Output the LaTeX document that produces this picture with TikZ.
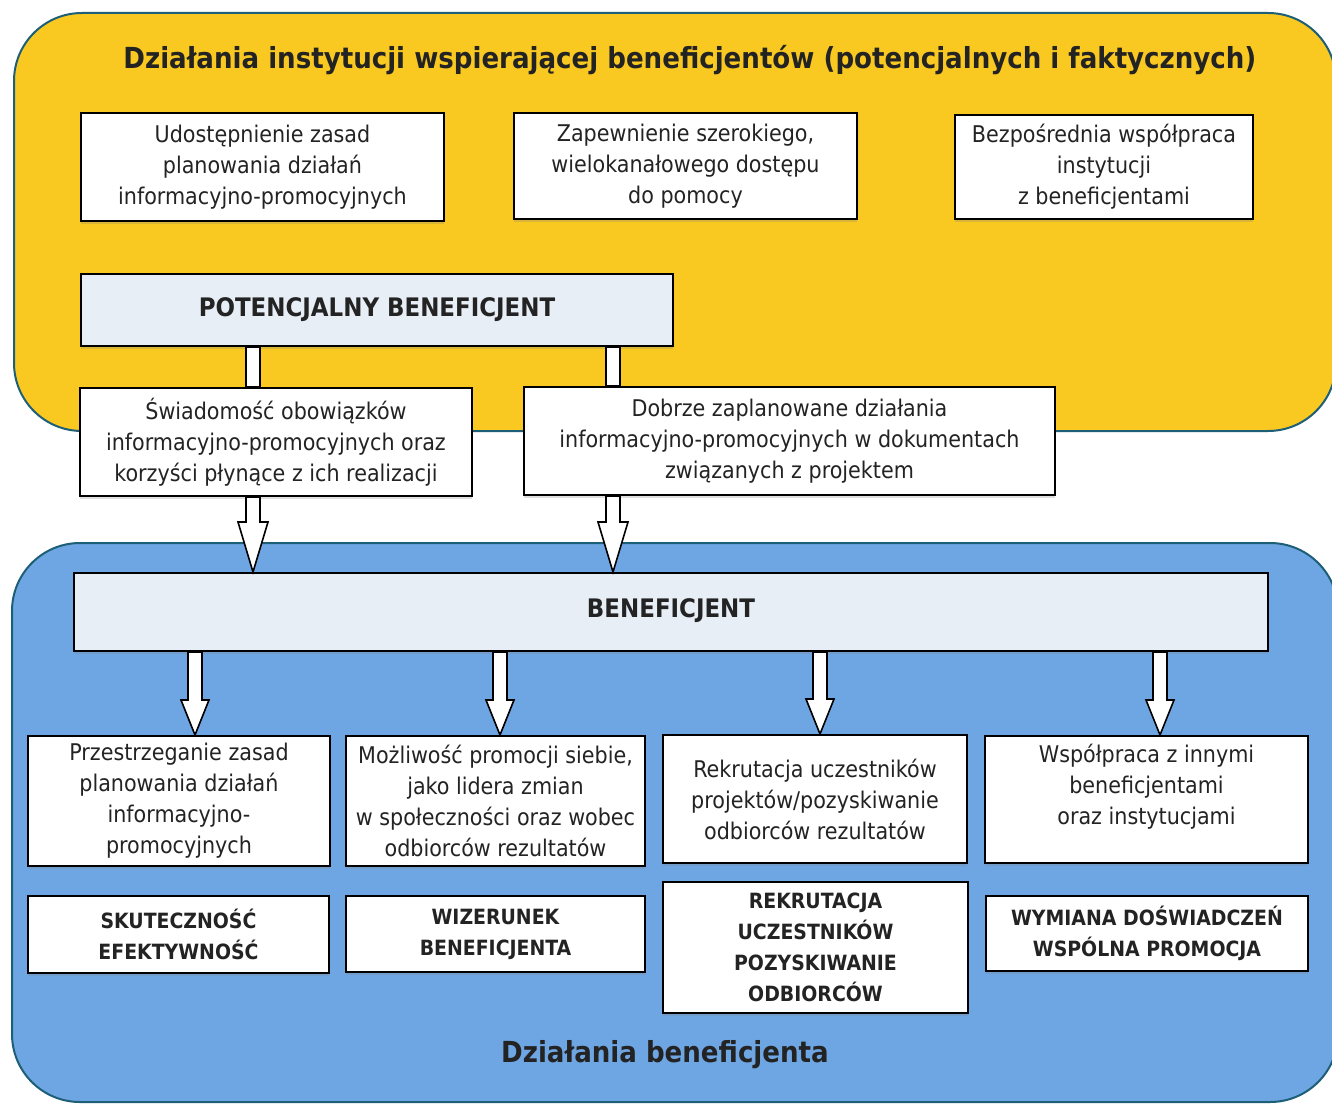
\documentclass[tikz,border=0pt]{standalone}
\usepackage{fontspec}
\setmainfont{DejaVu Sans Condensed}
\usetikzlibrary{calc,shadows}
\definecolor{ylw}{RGB}{249,201,33}
\definecolor{blu}{RGB}{110,166,228}
\definecolor{rim}{RGB}{30,95,120}
\definecolor{pale}{RGB}{232,238,246}
\definecolor{ink}{RGB}{35,35,35}
\tikzset{
  panel/.style={draw=rim, line width=2pt, rounded corners=68pt},
  box/.style={draw=black, line width=2pt, fill=white, align=center, inner sep=0pt,
    font=\fontsize{23}{31}\selectfont, text=ink,
    drop shadow={shadow xshift=0pt, shadow yshift=-3pt, opacity=0.25}},
  boldbox/.style={box, font=\fontsize{21}{31}\selectfont\bfseries},
  headbox/.style={box, fill=pale, font=\fontsize{25.5}{31}\selectfont\bfseries},
  bar/.style={draw=black, line width=1.6pt, fill=white},
  fat/.style={draw=black, line width=1.6pt, fill=white, line join=miter},
  ttl/.style={font=\fontsize{29}{34}\selectfont\bfseries, text=ink, inner sep=0pt},
}
% #1 start coord, #2 end coord, #3 shaft half width, #4 head half width, #5 head length
\newcommand{\fatarrow}[5]{%
  \draw[fat] ([xshift=-#3]#1) -- ([xshift=-#3,yshift=#5]#2) -- ([xshift=-#4,yshift=#5]#2)
    -- (#2) -- ([xshift=#4,yshift=#5]#2) -- ([xshift=#3,yshift=#5]#2) -- ([xshift=#3]#1) -- cycle;}
\begin{document}
\begin{tikzpicture}[x=1pt,y=-1pt]
\useasboundingbox (0,0) rectangle (1332,1105);
\fill[white] (0,0) rectangle (1332,1105);
% panels
\draw[panel, fill=ylw] (14,13) rectangle (1336,431);
\draw[panel, fill=blu] (12,543) rectangle (1338,1102);
\node[ttl] (title) at (690,60) {Działania instytucji wspierającej beneficjentów (potencjalnych i faktycznych)};
\node[ttl] (foot) at (665,1055) {Działania beneficjenta};
% top boxes
\node[box, minimum width=363pt, minimum height=108pt] (t1) at (262.5,167)
  {Udostępnienie zasad\\planowania działań\\informacyjno-promocyjnych};
\node[box, minimum width=343pt, minimum height=106pt] (t2) at (685.5,166)
  {Zapewnienie szerokiego,\\wielokanałowego dostępu\\do pomocy};
\node[box, minimum width=298pt, minimum height=104pt] (t3) at (1104,167)
  {Bezpośrednia współpraca\\instytucji\\z beneficjentami};
% potential beneficiary
\node[headbox, minimum width=592pt, minimum height=72pt] (pb) at (377,310)
  {\raisebox{5pt}{POTENCJALNY BENEFICJENT}};
% second row
\node[box, minimum width=392pt, minimum height=108pt] (s1) at (276,442)
  {Świadomość obowiązków\\informacyjno-promocyjnych oraz\\korzyści płynące z ich realizacji};
\node[box, minimum width=531pt, minimum height=108pt] (s2) at (789.5,441)
  {Dobrze zaplanowane działania\\informacyjno-promocyjnych w dokumentach\\związanych z projektem};
% beneficiary
\node[headbox, minimum width=1194pt, minimum height=78pt] (ben) at (671,612)
  {\raisebox{8pt}{BENEFICJENT}};
% bottom rows
\node[box, minimum width=302pt, minimum height=130pt] (b1) at (179,801)
  {Przestrzeganie zasad\\planowania działań\\informacyjno-\\promocyjnych};
\node[box, minimum width=299pt, minimum height=130pt] (b2) at (495.5,801)
  {Możliwość promocji siebie,\\jako lidera zmian\\w społeczności oraz wobec\\odbiorców rezultatów};
\node[box, minimum width=304pt, minimum height=128pt] (b3) at (815,799)
  {Rekrutacja uczestników\\projektów/pozyskiwanie\\odbiorców rezultatów};
\node[box, minimum width=323pt, minimum height=127pt] (b4) at (1146.5,799.5)
  {Współpraca z innymi\\beneficjentami\\oraz instytucjami\\\mbox{}};
\node[boldbox, minimum width=301pt, minimum height=77pt] (c1) at (178.5,934.5)
  {SKUTECZNOŚĆ\\EFEKTYWNOŚĆ};
\node[boldbox, minimum width=299pt, minimum height=76pt] (c2) at (495.5,934)
  {WIZERUNEK\\BENEFICJENTA};
\node[boldbox, minimum width=305pt, minimum height=131pt] (c3) at (815.5,947.5)
  {REKRUTACJA\\UCZESTNIKÓW\\POZYSKIWANIE\\ODBIORCÓW};
\node[boldbox, minimum width=322pt, minimum height=75pt] (c4) at (1147,933.5)
  {WYMIANA DOŚWIADCZEŃ\\WSPÓLNA PROMOCJA};
% column positions
\coordinate (xa) at (253,0);
\coordinate (xb) at (613,0);
\coordinate (x1) at (195,0);
\coordinate (x2) at (500,0);
\coordinate (x3) at (820,0);
\coordinate (x4) at (1160,0);
% bars from potential beneficiary
\coordinate (pa1) at (pb.south -| xa);
\coordinate (pa2) at (s1.north -| xa);
\coordinate (pb1) at (pb.south -| xb);
\coordinate (pb2) at (s2.north -| xb);
\draw[bar] ([xshift=-7pt]pa1) rectangle ([xshift=7pt]pa2);
\draw[bar] ([xshift=-7pt]pb1) rectangle ([xshift=7pt]pb2);
% arrows into beneficiary
\coordinate (qa1) at (s1.south -| xa);
\coordinate (qa2) at (ben.north -| xa);
\coordinate (qb1) at (s2.south -| xb);
\coordinate (qb2) at (ben.north -| xb);
\fatarrow{qa1}{qa2}{7pt}{15pt}{50pt}
\fatarrow{qb1}{qb2}{7pt}{15pt}{50pt}
% arrows out of beneficiary
\coordinate (r11) at (ben.south -| x1);
\coordinate (r12) at (b1.north -| x1);
\coordinate (r21) at (ben.south -| x2);
\coordinate (r22) at (b2.north -| x2);
\coordinate (r31) at (ben.south -| x3);
\coordinate (r32) at (b3.north -| x3);
\coordinate (r41) at (ben.south -| x4);
\coordinate (r42) at (b4.north -| x4);
\fatarrow{r11}{r12}{7pt}{14pt}{35pt}
\fatarrow{r21}{r22}{7pt}{14pt}{35pt}
\fatarrow{r31}{r32}{7pt}{14pt}{35pt}
\fatarrow{r41}{r42}{7pt}{14pt}{35pt}
\end{tikzpicture}
\end{document}
